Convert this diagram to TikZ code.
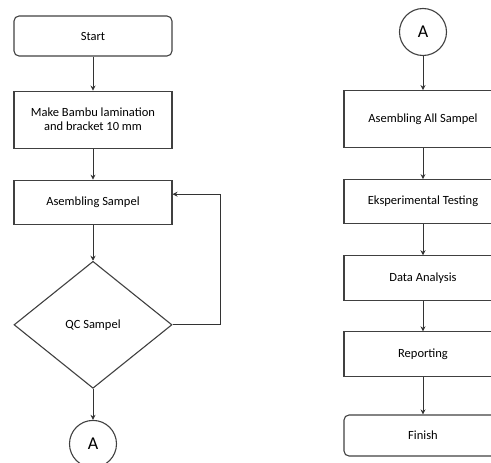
\documentclass[tikz,border=0pt]{standalone}
\usepackage{fontspec}
\setmainfont{Carlito}
\usetikzlibrary{arrows.meta, positioning, shapes.geometric}

\begin{document}
\begin{tikzpicture}[
        x=1pt, y=-1pt,
        font=\fontsize{12.5}{14}\selectfont,
        process/.style={
            rectangle,
            minimum width=158pt,
            text centered,
            align=center,
            draw=black!75,
            line width=1.1pt
        },
        terminal/.style={
            process,
            rounded corners=5pt,
            minimum height=40pt
        },
        decision/.style={
            diamond,
            minimum width=158pt,
            minimum height=127pt,
            inner sep=0pt,
            draw=black!75,
            line width=1.1pt
        },
        connector/.style={
            circle,
            minimum size=47pt,
            inner sep=0pt,
            draw=black!75,
            line width=1.1pt,
            font=\fontsize{18}{20}\selectfont
        },
        arrow/.style={
            draw=black!80,
            line width=1pt,
            -{Stealth[length=5pt, width=5pt]}
        }
    ]

    \useasboundingbox (0,0) rectangle (491,463);
    \clip (0,0) rectangle (491,463);

    % Left column
    \node (start) [terminal] at (93,36) {Start};
    \node (make) [process, minimum height=57pt, below=34pt of start] {Make Bambu lamination\\and bracket 10 mm};
    \node (asm) [process, minimum height=44pt, below=31pt of make] {Asembling Sampel};
    \node (qc) [decision, below=36pt of asm] {QC Sampel};
    \node (conA) [connector, below=31pt of qc] {A};

    % Right column
    \node (conB) [connector] at (423,32) {A};
    \node (all) [process, minimum height=57pt, below=34pt of conB] {Asembling All Sampel};
    \node (eksp) [process, minimum height=44pt, below=31pt of all] {Eksperimental Testing};
    \node (data) [process, minimum height=45pt, below=31pt of eksp] {Data Analysis};
    \node (report) [process, minimum height=45pt, below=30pt of data] {Reporting};
    \node (finish) [terminal, minimum height=41pt, below=37pt of report] {Finish};

    % Arrows
    \draw [arrow] (start) -- (make);
    \draw [arrow] (make) -- (asm);
    \draw [arrow] (asm) -- (qc);
    \draw [arrow] (qc) -- (conA);
    \draw [arrow] (qc.east) -- ++(48,0) |- ([yshift=8pt]asm.east);

    \draw [arrow] (conB) -- (all);
    \draw [arrow] (all) -- (eksp);
    \draw [arrow] (eksp) -- (data);
    \draw [arrow] (data) -- (report);
    \draw [arrow] (report) -- (finish);

\end{tikzpicture}
\end{document}
